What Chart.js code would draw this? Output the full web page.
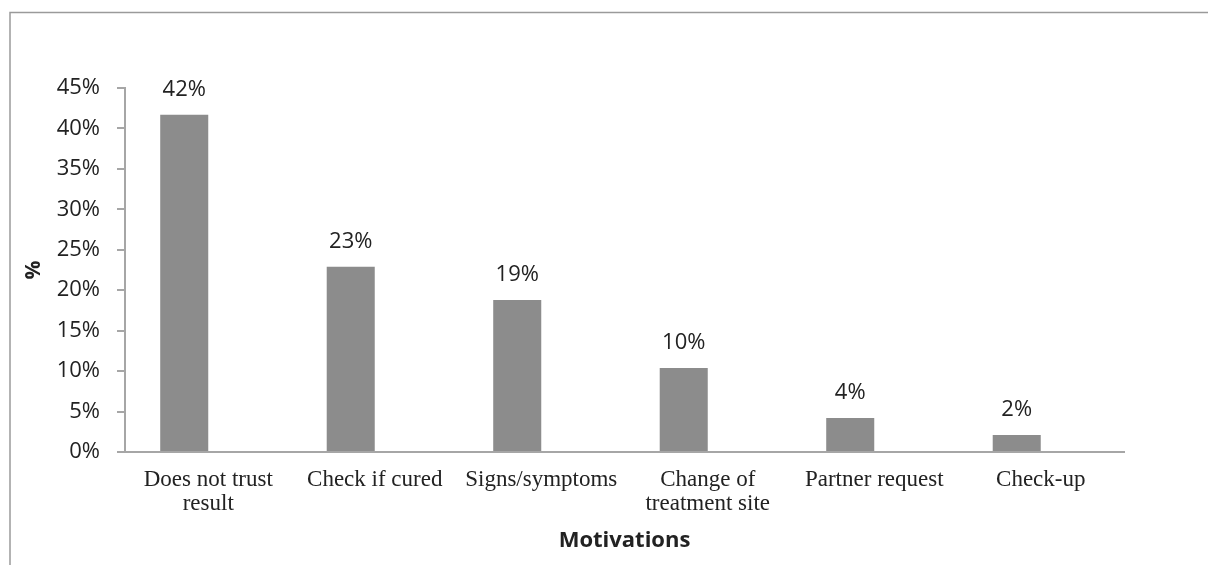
<!DOCTYPE html>
<html>
<head>
<meta charset="utf-8">
<script src="https://cdn.jsdelivr.net/npm/chart.js@4"></script>
<style>
  html, body { margin: 0; padding: 0; background: #fff; }
  #wrap { width: 1208px; height: 565px; }
</style>
</head>
<body>
<div id="wrap"><canvas id="motivationsChart" width="1208" height="565"></canvas></div>
<script>
// values (shares out of 48 answers)
const categories = [["Does not trust", "result"], "Check if cured", "Signs/symptoms", ["Change of", "treatment site"], "Partner request", "Check-up"];
const shares = [41.7, 22.9, 18.8, 10.4, 4.2, 2.1];
const emptySeries = [null, null, null, null, null, null]; // second (empty) series of the original chart
const yTicks = [0, 5, 10, 15, 20, 25, 30, 35, 40, 45];

const gray = "#a6a6a6";
const sansFont = "'Open Sans', 'Noto Sans', sans-serif";

// frame around the chart and value labels above bars
const framePlugin = {
    id: "frame",
    afterDraw(chart) {
        const c = chart.ctx;
        c.save();
        c.strokeStyle = "#9a9a9a";
        c.lineWidth = 1.5;
        c.strokeRect(10, 12.5, 1400, 800);
        c.restore();
    }
};

const valueLabels = {
    id: "valueLabels",
    afterDatasetsDraw(chart) {
        const c = chart.ctx;
        const meta = chart.getDatasetMeta(0);
        c.save();
        c.font = "22px " + sansFont;
        c.fillStyle = "#222";
        c.textAlign = "center";
        c.textBaseline = "middle";
        meta.data.forEach(function (bar, i) {
            c.fillText(Math.round(shares[i]) + "%", bar.x, bar.y - 25);
        });
        c.restore();
    }
};

new Chart(document.getElementById("motivationsChart").getContext("2d"), {
    type: "bar",
    data: {
        labels: categories,
        datasets: [{
            label: "Motivations",
            data: shares,
            backgroundColor: "#8c8c8c",
            categoryPercentage: 0.577,
            barPercentage: 1.0
        }, {
            label: "",
            data: emptySeries,
            backgroundColor: "#8c8c8c",
            categoryPercentage: 0.577,
            barPercentage: 1.0
        }]
    },
    options: {
        responsive: false,
        animation: false,
        layout: { padding: { top: 88, right: 84, bottom: 0, left: 0 } },
        plugins: {
            legend: { display: false },
            tooltip: { enabled: false }
        },
        scales: {
            x: {
                grid: { display: false, drawTicks: false },
                border: { display: true, color: gray, width: 2 },
                ticks: {
                    padding: 16,
                    maxRotation: 0,
                    autoSkip: false,
                    color: "#222",
                    font: { family: "'Liberation Serif', serif", size: 23, lineHeight: 1.045 }
                },
                title: {
                    display: true,
                    text: "Motivations",
                    color: "#222",
                    font: { family: sansFont, size: 22, weight: "bold" },
                    padding: { top: 0, bottom: 11 }
                },
                afterFit(scale) { scale.height = 113; }
            },
            y: {
                min: 0,
                max: 45,
                afterBuildTicks(scale) { scale.ticks = yTicks.map(v => ({ value: v })); },
                grid: { drawOnChartArea: false, color: gray, tickLength: 8, lineWidth: 2 },
                border: { color: gray, width: 2 },
                ticks: {
                    padding: 17,
                    color: "#222",
                    font: { family: sansFont, size: 22 },
                    callback: v => v + "%"
                },
                title: {
                    display: true,
                    text: "%",
                    color: "#222",
                    font: { family: sansFont, size: 21, weight: "bold" },
                    padding: { top: 21, bottom: 0 }
                },
                afterFit(scale) { scale.width = 125; }
            }
        }
    },
    plugins: [framePlugin, valueLabels]
});
</script>
</body>
</html>
